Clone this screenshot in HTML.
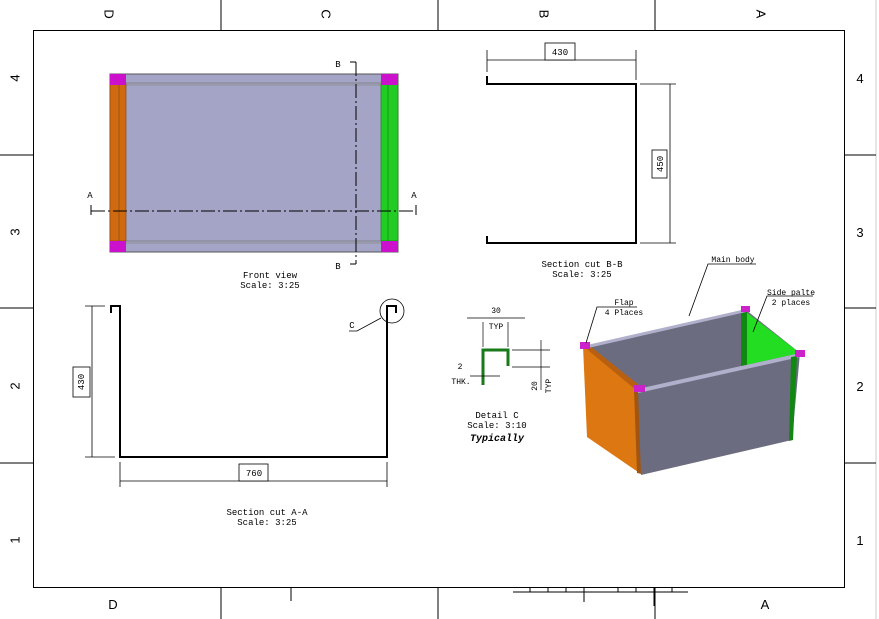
<!DOCTYPE html>
<html><head><meta charset="utf-8"><style>
html,body{margin:0;padding:0;background:#fff;width:879px;height:619px;overflow:hidden}
svg text{font-family:"Liberation Mono",monospace;fill:#000}
.s{font-family:"Liberation Sans",sans-serif!important}
</style></head><body>
<svg width="879" height="619" viewBox="0 0 879 619" xmlns="http://www.w3.org/2000/svg">
<rect width="879" height="619" fill="#fff"/>
<line x1="876" y1="0" x2="876" y2="619" stroke="#ccc" stroke-width="1"/>
<rect x="33.5" y="30.5" width="811" height="557" fill="none" stroke="#000" stroke-width="1"/>
<g stroke="#000" stroke-width="1">
<line x1="221" y1="0" x2="221" y2="30"/><line x1="438" y1="0" x2="438" y2="30"/><line x1="655" y1="0" x2="655" y2="30"/>
<line x1="221" y1="587" x2="221" y2="619"/><line x1="438" y1="587" x2="438" y2="619"/><line x1="655" y1="587" x2="655" y2="619"/>
<line x1="291" y1="587" x2="291" y2="601"/>
<line x1="0" y1="155" x2="33" y2="155"/><line x1="0" y1="308" x2="33" y2="308"/><line x1="0" y1="463" x2="33" y2="463"/>
<line x1="844" y1="155" x2="876" y2="155"/><line x1="844" y1="308" x2="876" y2="308"/><line x1="844" y1="463" x2="876" y2="463"/>
<line x1="513" y1="592" x2="688" y2="592"/>
<line x1="530" y1="587" x2="530" y2="592"/><line x1="548" y1="587" x2="548" y2="592"/><line x1="566" y1="587" x2="566" y2="592"/><line x1="584" y1="587" x2="584" y2="602"/><line x1="618" y1="587" x2="618" y2="592"/><line x1="636" y1="587" x2="636" y2="592"/><line x1="654" y1="587" x2="654" y2="606"/><line x1="672" y1="587" x2="672" y2="592"/>
</g>
<g font-size="13" class="s">
<text class="s" transform="translate(108,14) rotate(90)" text-anchor="middle" dominant-baseline="middle">D</text>
<text class="s" transform="translate(325,14) rotate(90)" text-anchor="middle" dominant-baseline="middle">C</text>
<text class="s" transform="translate(543,14) rotate(90)" text-anchor="middle" dominant-baseline="middle">B</text>
<text class="s" transform="translate(760,14) rotate(90)" text-anchor="middle" dominant-baseline="middle">A</text>
<text class="s" x="113" y="609" text-anchor="middle">D</text>
<text class="s" x="765" y="609" text-anchor="middle">A</text>
<text class="s" transform="translate(16,78) rotate(-90)" text-anchor="middle" dominant-baseline="middle">4</text>
<text class="s" transform="translate(16,232) rotate(-90)" text-anchor="middle" dominant-baseline="middle">3</text>
<text class="s" transform="translate(16,386) rotate(-90)" text-anchor="middle" dominant-baseline="middle">2</text>
<text class="s" transform="translate(16,540) rotate(-90)" text-anchor="middle" dominant-baseline="middle">1</text>
<text class="s" x="860" y="83" text-anchor="middle">4</text>
<text class="s" x="860" y="237" text-anchor="middle">3</text>
<text class="s" x="860" y="391" text-anchor="middle">2</text>
<text class="s" x="860" y="545" text-anchor="middle">1</text>
</g>

<!-- Front view -->
<rect x="110" y="74" width="288" height="178" fill="#a4a4c6" stroke="#555" stroke-width="1"/>
<line x1="124" y1="83" x2="382" y2="83" stroke="#777" stroke-width="0.7"/><line x1="124" y1="85" x2="382" y2="85" stroke="#888" stroke-width="0.7"/>
<line x1="124" y1="241" x2="382" y2="241" stroke="#777" stroke-width="0.7"/><line x1="124" y1="243" x2="382" y2="243" stroke="#888" stroke-width="0.7"/>
<rect x="110" y="84" width="16" height="157" fill="#d06a10" stroke="#8a4a10" stroke-width="0.7"/>
<line x1="119" y1="84" x2="119" y2="241" stroke="#8a4a10" stroke-width="0.7"/>
<rect x="381" y="84" width="17" height="157" fill="#22cc22" stroke="#118811" stroke-width="0.7"/>
<line x1="388" y1="84" x2="388" y2="241" stroke="#118811" stroke-width="0.7"/>
<rect x="110" y="74" width="16" height="11" fill="#cc11cc"/><rect x="381" y="74" width="17" height="11" fill="#cc11cc"/>
<rect x="110" y="241" width="16" height="11" fill="#cc11cc"/><rect x="381" y="241" width="17" height="11" fill="#cc11cc"/>
<g stroke="#000" stroke-width="1" fill="none">
<line x1="91" y1="211" x2="416" y2="211" stroke-dasharray="14,3,2,3"/>
<line x1="91" y1="205" x2="91" y2="215"/><line x1="416" y1="205" x2="416" y2="215"/>
<line x1="356" y1="62" x2="356" y2="264" stroke-dasharray="14,3,2,3"/>
<line x1="350" y1="62" x2="356" y2="62"/><line x1="350" y1="264" x2="356" y2="264"/>
</g>
<g font-size="9">
<text x="90" y="198" text-anchor="middle">A</text><text x="414" y="198" text-anchor="middle">A</text>
<text x="338" y="67" text-anchor="middle">B</text><text x="338" y="269" text-anchor="middle">B</text>
<text x="270" y="278" text-anchor="middle">Front view</text>
<text x="270" y="288" text-anchor="middle">Scale:  3:25</text>
</g>

<!-- Section B-B -->
<path d="M487,76 L487,84 L636,84 L636,243 L487,243 L487,236" fill="none" stroke="#000" stroke-width="2"/>
<g stroke="#000" stroke-width="0.8" fill="#fff">
<line x1="487" y1="50" x2="487" y2="72"/><line x1="636" y1="50" x2="636" y2="80"/>
<line x1="487" y1="60" x2="636" y2="60"/>
<line x1="640" y1="84" x2="676" y2="84"/><line x1="640" y1="243" x2="676" y2="243"/>
<line x1="670" y1="84" x2="670" y2="243"/>
<rect x="545" y="43" width="30" height="17"/>
<rect x="652" y="150" width="15" height="28"/>
</g>
<g font-size="9">
<text x="560" y="55" text-anchor="middle">430</text>
<text transform="translate(663,164) rotate(-90)" text-anchor="middle">450</text>
<text x="582" y="267" text-anchor="middle">Section cut B-B</text>
<text x="582" y="277" text-anchor="middle">Scale:  3:25</text>
</g>

<!-- Section A-A -->
<path d="M111,313 L111,306 L120,306 L120,457 L387,457 L387,306 L396,306 L396,313" fill="none" stroke="#000" stroke-width="2"/>
<circle cx="392" cy="311" r="12" fill="none" stroke="#000" stroke-width="0.8"/>
<g stroke="#000" stroke-width="0.8" fill="#fff">
<line x1="85" y1="306" x2="105" y2="306"/><line x1="85" y1="457" x2="115" y2="457"/>
<line x1="92" y1="306" x2="92" y2="457"/>
<line x1="120" y1="462" x2="120" y2="487"/><line x1="387" y1="462" x2="387" y2="487"/>
<line x1="120" y1="481" x2="387" y2="481"/>
<rect x="73" y="367" width="17" height="30"/>
<rect x="239" y="464" width="29" height="17"/>
<path d="M349,331 L357,331 L381,318" fill="none"/>
</g>
<g font-size="9">
<text x="254" y="476" text-anchor="middle">760</text>
<text transform="translate(84,382) rotate(-90)" text-anchor="middle">430</text>
<text x="352" y="328" text-anchor="middle">C</text>
<text x="267" y="515" text-anchor="middle">Section cut A-A</text>
<text x="267" y="525" text-anchor="middle">Scale:  3:25</text>
</g>

<!-- Detail C -->
<path d="M483,385 L483,350 L508,350 L508,366" fill="none" stroke="#1a7a1a" stroke-width="3"/>
<g stroke="#000" stroke-width="0.7" fill="none">
<line x1="483" y1="322" x2="483" y2="347"/><line x1="508" y1="322" x2="508" y2="347"/>
<line x1="467" y1="318" x2="525" y2="318"/>
<line x1="470" y1="376" x2="500" y2="376"/>
<line x1="512" y1="350" x2="550" y2="350"/><line x1="512" y1="367" x2="550" y2="367"/>
<line x1="541" y1="340" x2="541" y2="390"/>
</g>
<g font-size="8">
<text x="496" y="313" text-anchor="middle">30</text>
<text x="496" y="329" text-anchor="middle">TYP</text>
<text x="460" y="369" text-anchor="middle">2</text>
<text x="461" y="384" text-anchor="middle">THK.</text>
<text transform="translate(537,386) rotate(-90)" text-anchor="middle">20</text>
<text transform="translate(551,386) rotate(-90)" text-anchor="middle">TYP</text>
</g>
<g font-size="9">
<text x="497" y="418" text-anchor="middle">Detail C</text>
<text x="497" y="428" text-anchor="middle">Scale:  3:10</text>
<text x="497" y="441" text-anchor="middle" font-weight="bold" font-style="italic" font-size="10">Typically</text>
</g>

<!-- 3D box -->
<polygon points="586,346 746,310 800,353 638,389" fill="#6c6c80"/>
<polygon points="746,312 800,353 746,366" fill="#22dd22"/>
<polygon points="741,310 747,312 747,366 741,367" fill="#118811"/>
<polygon points="583,346 638,389 641,474 587,437" fill="#dd7711"/>
<polygon points="583,346 590,346 640,386 636,390" fill="#b86010"/>
<polygon points="634,388 641,389 642,474 637,473" fill="#a05510"/>
<polygon points="638,389 800,353 792,440 641,475" fill="#6c6c80"/>
<polygon points="638,389 800,353 800,357 638,393" fill="#b0b0cc"/>
<polygon points="587,345 746,309 746,312 588,348" fill="#b0b0cc"/>
<polygon points="791,357 797,356 793,440 789,441" fill="#118811"/>
<rect x="580" y="342" width="10" height="7" fill="#cc22cc"/>
<rect x="741" y="306" width="9" height="6" fill="#cc22cc"/>
<rect x="634" y="385" width="11" height="7" fill="#cc22cc"/>
<rect x="795" y="350" width="10" height="7" fill="#cc22cc"/>
<g stroke="#000" stroke-width="0.8" fill="none">
<path d="M586,343 L597,307 L637,307"/>
<path d="M689,316 L708,264 L756,264"/>
<path d="M753,332 L767,296 L813,296"/>
</g>
<g font-size="8">
<text x="624" y="305" text-anchor="middle">Flap</text>
<text x="624" y="315" text-anchor="middle">4 Places</text>
<text x="733" y="262" text-anchor="middle">Main body</text>
<text x="791" y="295" text-anchor="middle">Side palte</text>
<text x="791" y="305" text-anchor="middle">2 places</text>
</g>
</svg>
</body></html>
